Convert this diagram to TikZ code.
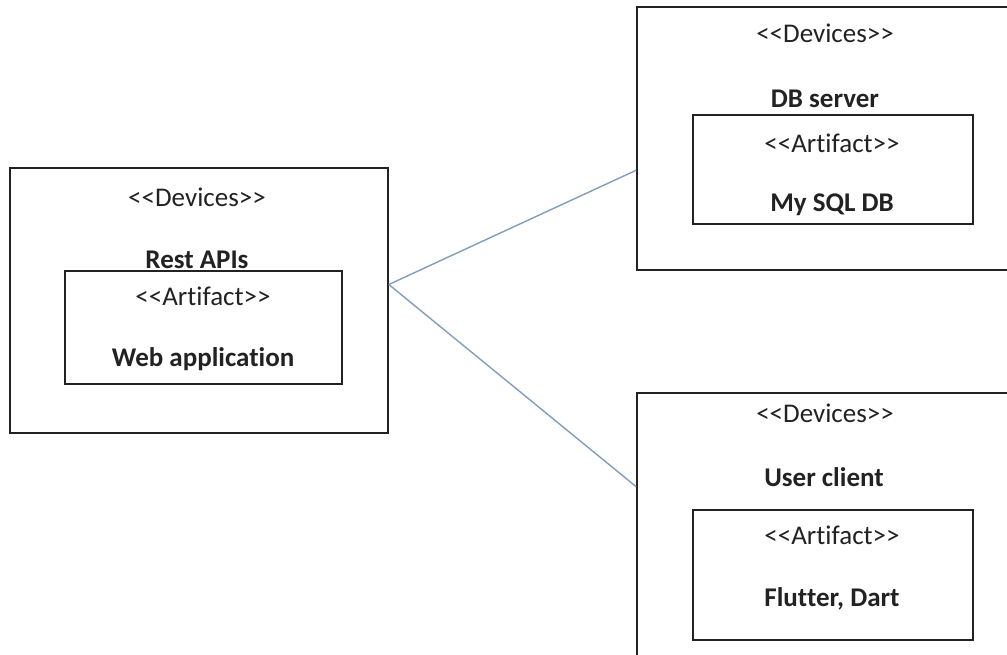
\documentclass[tikz,border=0pt]{standalone}
\usepackage{fontspec}
\setmainfont[Ligatures={TeX,NoCommon}]{Carlito}
\usepackage{xcolor}
\usepackage{tikz}
\usetikzlibrary{positioning,calc}
\definecolor{linkblue}{RGB}{128,158,188}
\definecolor{inkgray}{RGB}{34,34,34}

\begin{document}
\begin{tikzpicture}[
    x=1pt, y=-1pt,
    device/.style={rectangle, draw=inkgray, line width=1.6pt, inner sep=0pt},
    artifact/.style={rectangle, draw=inkgray, line width=1.6pt, inner sep=0pt},
    stereo/.style={font=\fontsize{27}{32}\selectfont, text=inkgray, inner sep=0pt},
    title/.style={font=\fontsize{27}{32}\selectfont\bfseries, text=inkgray, inner sep=0pt},
    link/.style={draw=linkblue, line width=1.4pt},
]
    \useasboundingbox (0,0) rectangle (1007,655);
    \clip (0,0) rectangle (1007,655);

    % deployment nodes
    \node[device, minimum width=378pt, minimum height=265pt] (rest) at (199,300.5) {};
    \node[device, minimum width=375pt, minimum height=263pt] (dbserver) at (824.5,138.5) {};
    \node[device, minimum width=375pt, minimum height=270pt] (client) at (824.5,528) {};

    % artifacts
    \node[artifact, minimum width=277pt, minimum height=113pt] (webapp) at (203.5,327.5) {};
    \node[artifact, minimum width=280pt, minimum height=109pt] (mysql) at (833,169.5) {};
    \node[artifact, minimum width=280pt, minimum height=130pt] (flutter) at (833,575) {};

    % labels
    \node[stereo] (restdev) at (197,197) {<{}<Devices>{}>};
    \node[title] (restname) at (197,260) {Rest APIs};
    \node[stereo] (webart) at (203,296) {<{}<Artifact>{}>};
    \node[title] (webname) at (203,359) {Web application};

    \node[stereo] (dbdev) at (825,33) {<{}<Devices>{}>};
    \node[title] (dbname) at (825,99) {DB server};
    \node[stereo] (sqlart) at (832,143) {<{}<Artifact>{}>};
    \node[title] (sqlname) at (832,205) {My SQL DB};

    \node[stereo] (clientdev) at (825,413) {<{}<Devices>{}>};
    \node[title] (clientname) at (824,477) {User client};
    \node[stereo] (flutterart) at (832,535) {<{}<Artifact>{}>};
    \node[title] (fluttername) at (832,599) {Flutter, Dart};

    % connections
    \coordinate (hub) at ($(rest.north east)!0.44!(rest.south east)$);
    \draw[link] (hub) -- ($(dbserver.north west)!0.62!(dbserver.south west)$);
    \draw[link] (hub) -- ($(client.north west)!0.348!(client.south west)$);
\end{tikzpicture}
\end{document}
